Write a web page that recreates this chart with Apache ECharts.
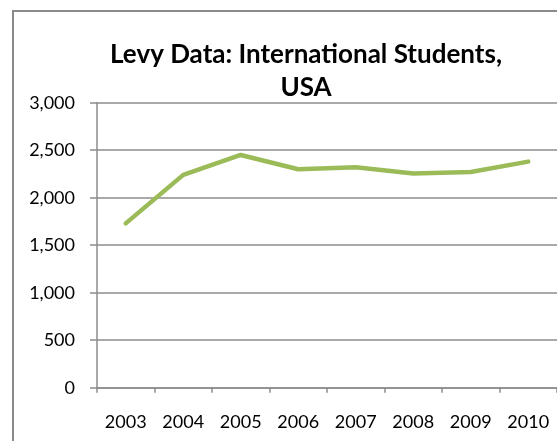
<!DOCTYPE html>
<html>
<head>
<meta charset="utf-8">
<script src="https://cdn.jsdelivr.net/npm/echarts@6/dist/echarts.min.js"></script>
<style>
html,body{margin:0;padding:0;background:#fff;}
#main{width:557px;height:441px;}
</style>
</head>
<body>
<div id="main"></div>
<script>
const years = ['2003','2004','2005','2006','2007','2008','2009','2010'];
const students = [1730, 2240, 2450, 2300, 2320, 2255, 2270, 2380];
const yTicks = [0, 500, 1000, 1500, 2000, 2500, 3000];

const chart = echarts.init(document.getElementById('main'));
const font = 'Lato, "Open Sans", sans-serif';
chart.setOption({
  animation: false,
  backgroundColor: '#fff',
  graphic: [{
    type: 'rect',
    shape: {x: 13, y: 11, width: 700, height: 600},
    style: {fill: 'none', stroke: '#8a8a8a', lineWidth: 2},
    z: -10
  }],
  title: {
    text: 'Levy Data: International Students,\nUSA',
    left: 306, textAlign: 'center', top: 38, padding: 0,
    textStyle: {fontFamily: font, fontWeight: 'bold', fontSize: 26, lineHeight: 33, color: '#000'}
  },
  grid: {left: 97, top: 102.7, bottom: 53.3, width: 468, containLabel: false},
  xAxis: {
    type: 'category', data: years, boundaryGap: true,
    axisLine: {lineStyle: {color: '#8c8c8c', width: 1.5}},
    axisTick: {show: true, length: 5, lineStyle: {color: '#8c8c8c', width: 1.5}},
    axisLabel: {fontFamily: font, fontSize: 18, color: '#000', margin: 25, interval: 0},
    splitLine: {show: false}
  },
  yAxis: {
    type: 'value', min: yTicks[0], max: yTicks[yTicks.length-1], interval: 500,
    axisLine: {show: true, lineStyle: {color: '#8c8c8c', width: 1.5}},
    axisTick: {show: true, length: 7, lineStyle: {color: '#8c8c8c', width: 1.5}},
    axisLabel: {fontFamily: font, fontSize: 18, color: '#000', margin: 22,
      formatter: v => v.toLocaleString('en-US')},
    splitLine: {show: true, lineStyle: {color: '#8c8c8c', width: 1.5}}
  },
  series: [{
    type: 'line', data: students, symbol: 'none',
    lineStyle: {color: '#9bbb59', width: 4.5, join: 'round', cap: 'round'}
  }]
});
</script>
</body>
</html>
